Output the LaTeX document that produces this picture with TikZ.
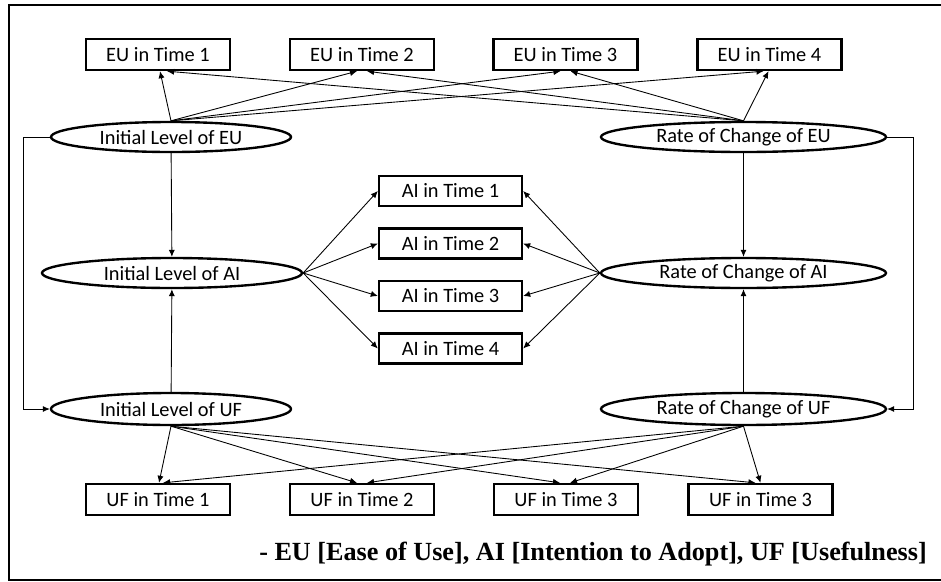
\documentclass[tikz,border=0pt]{standalone}
\usepackage{fontspec}
\setmainfont{Carlito}
\newfontfamily\notefont{Liberation Serif}
\usetikzlibrary{shapes,arrows.meta,positioning,calc}

\begin{document}
\begin{tikzpicture}[x=0.02cm, y=-0.02cm,
    obs/.style={draw, line width=1.35pt, minimum width=2.88cm, minimum height=0.62cm, inner sep=0pt, font=\fontsize{11.6}{14}\selectfont},
    lat/.style={ellipse, draw, line width=1.35pt, minimum height=0.6cm, inner sep=0pt, font=\fontsize{11.6}{14}\selectfont},
    link/.style={line width=0.5pt, -{Latex[length=4pt,width=3.5pt]}}]
    \useasboundingbox (0,0) rectangle (941,582);
    \draw [line width=1.2pt] (950,5) -- (9,5) -- (9,580) -- (950,580);

    % observed EU
    \node (EUa) at (158,54.5) [obs] {EU in Time 1};
    \node (EUb) at (362,54.5) [obs] {EU in Time 2};
    \node (EUc) at (565.5,54.5) [obs] {EU in Time 3};
    \node (EUd) at (769.5,54.5) [obs] {EU in Time 4};

    % latent growth factors
    \node (IEU) at (171,137) [lat, minimum width=4.8cm] {Initial Level of EU};
    \node (REU) at (743.5,137) [lat, minimum width=5.7cm] {Rate of Change of EU};
    \node (IAI) at (172,273) [lat, minimum width=5.2cm] {Initial Level of AI};
    \node (RAI) at (743.5,273) [lat, minimum width=5.7cm] {Rate of Change of AI};
    \node (IUF) at (171,409) [lat, minimum width=4.8cm, minimum height=0.64cm] {Initial Level of UF};
    \node (RUF) at (743.5,409) [lat, minimum width=5.7cm, minimum height=0.64cm] {Rate of Change of UF};

    % observed AI
    \node (AIa) at (450.5,191) [obs, minimum width=2.86cm, minimum height=0.6cm] {AI in Time 1};
    \node (AIb) at (450.5,243.5) [obs, minimum width=2.86cm, minimum height=0.6cm] {AI in Time 2};
    \node (AIc) at (450.5,296) [obs, minimum width=2.86cm, minimum height=0.6cm] {AI in Time 3};
    \node (AId) at (450.5,348.5) [obs, minimum width=2.86cm, minimum height=0.6cm] {AI in Time 4};

    % observed UF
    \node (UFa) at (158,499.5) [obs] {UF in Time 1};
    \node (UFb) at (362,499.5) [obs] {UF in Time 2};
    \node (UFc) at (566,499.5) [obs] {UF in Time 3};
    \node (UFd) at (760.5,499.5) [obs] {UF in Time 3};

    % loadings
    \foreach \b/\i/\r in {EUa/2/9, EUb/-5/5, EUc/-5/5, EUd/-6/-1} {
        \draw [link] (IEU.north) -- ($(\b.south)+(\i,0)$);
        \draw [link] (REU.north) -- ($(\b.south)+(\r,0)$);
    }
    \foreach \b/\i/\r in {UFa/1/5, UFb/-5/5, UFc/-6/4, UFd/-5/0} {
        \draw [link] (IUF.south) -- ($(\b.north)+(\i,0)$);
        \draw [link] (RUF.south) -- ($(\b.north)+(\r,0)$);
    }
    \foreach \b in {AIa,AIb,AIc,AId} {
        \draw [link] (IAI.east) -- (\b.west);
        \draw [link] (RAI.west) -- (\b.east);
    }

    % structural paths
    \draw [link] (IEU) -- (IAI);
    \draw [link] (IUF) -- (IAI);
    \draw [link] (REU) -- (RAI);
    \draw [link] (RUF) -- (RAI);
    \draw [link] (IEU.west) -- ++(-26,0) |- (IUF.west);
    \draw [link] (REU.east) -- ++(26,0) |- (RUF.east);

    \node (key) at (933,560) [anchor=base east, font=\notefont\bfseries\fontsize{14.9}{16}\selectfont] {- EU [Ease of Use], AI [Intention to Adopt], UF [Usefulness]};
\end{tikzpicture}
\end{document}
